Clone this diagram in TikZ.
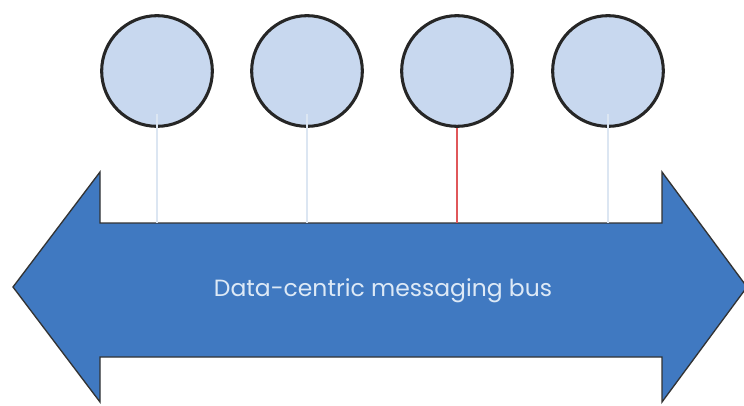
\documentclass[tikz,border=0pt]{standalone}
\usepackage{fontspec}
\setsansfont{Poppins}
\begin{document}
\begin{tikzpicture}[x=0.75pt,y=0.75pt,font=\sffamily,
	client/.style={circle,draw=black!85,line width=2.3pt,fill=cfill,minimum size=83pt,inner sep=0pt},
	tap/.style={line width=1.1pt,draw=tapcol},
	redtap/.style={line width=1.1pt,draw=redcol}]
	\definecolor{cfill}{HTML}{C8D8EF}
	\definecolor{busfill}{HTML}{4079C1}
	\definecolor{tapcol}{HTML}{DCE6F2}
	\definecolor{redcol}{HTML}{E0575A}
	\definecolor{txtcol}{HTML}{DDE9F6}
	\useasboundingbox (0,0) rectangle (744,405);
	% bus arrow
	\draw[fill=busfill,draw=black!80,line width=1pt] (13,118)--(100,233)--(100,182)--(662,182)--(662,233)--(747,118)--(662,3)--(662,48)--(100,48)--(100,3)--cycle;
	\node[text=txtcol,font=\sffamily\fontsize{17.6}{20}\selectfont] (bus) at (383,114) {Data-centric messaging bus};
	% clients
	\node[client] (c1) at (157,334) {};
	\node[client] (c2) at (307,334) {};
	\node[client] (c3) at (457,334) {};
	\node[client] (c4) at (608,334) {};
	\foreach \i in {1,2,3,4} \coordinate (t\i) at (c\i |- 0,182);
	\draw[tap] ([yshift=-32pt]c1.center)--(t1);
	\draw[tap] ([yshift=-32pt]c2.center)--(t2);
	\draw[redtap] (c3.south)--(t3);
	\draw[tap] ([yshift=-32pt]c4.center)--(t4);
\end{tikzpicture}
\end{document}
